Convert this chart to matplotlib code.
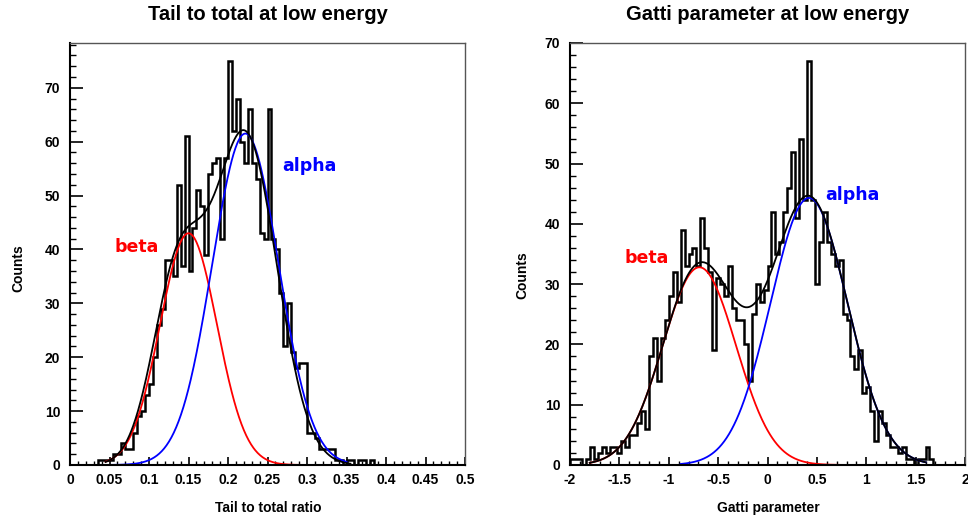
import numpy as np
import matplotlib
matplotlib.use('Agg')
import matplotlib.pyplot as plt
from matplotlib.ticker import MultipleLocator, FuncFormatter

plt.rcParams.update({'font.family': ['Liberation Sans', 'DejaVu Sans'], 'axes.unicode_minus': False})

W, H = 968, 521

# --- data: tail-to-total ratio, 100 bins on [0, 0.5]
tail_edges = np.linspace(0.0, 0.5, 101)
tail_counts = [0, 0, 0, 0, 0, 0, 0, 1, 1, 1,
               1, 2, 2, 4, 3, 3, 6, 9, 10, 13,
               15, 20, 26, 29, 38, 38, 35, 52, 37, 61,
               36, 44, 51, 48, 39, 54, 56, 57, 42, 57,
               75, 62, 68, 60, 56, 66, 56, 53, 43, 42,
               66, 42, 40, 32, 22, 30, 21, 18, 19, 19,
               6, 6, 5, 3, 3, 3, 3, 1, 1, 0,
               1, 1, 0, 1, 1, 0, 1, 0, 0, 0,
               0, 0, 0, 0, 0, 0, 0, 0, 0, 0,
               0, 0, 0, 0, 0, 0, 0, 0, 0, 0]
# gaussian fit parameters (amplitude, mean, sigma)
tail_beta = [43.0, 0.150, 0.036]
tail_alpha = [61.5, 0.222, 0.042]
tail_total = [[35.0, 0.137, 0.032], [61.0, 0.222, 0.040]]

# --- data: Gatti parameter, 100 bins on [-2, 2]
gatti_edges = np.linspace(-2.0, 2.0, 101)
gatti_counts = [1, 1, 1, 0, 1, 3, 1, 2, 3, 2,
                3, 3, 2, 4, 3, 5, 5, 7, 9, 6,
                18, 21, 14, 21, 24, 28, 32, 27, 39, 33,
                35, 36, 33, 41, 36, 32, 19, 31, 30, 28,
                33, 26, 24, 24, 20, 14, 25, 30, 27, 29,
                33, 42, 35, 37, 42, 46, 52, 41, 54, 44,
                67, 44, 30, 37, 42, 37, 35, 33, 34, 25,
                24, 18, 16, 19, 12, 13, 9, 4, 9, 7,
                5, 3, 3, 2, 3, 1, 1, 0, 1, 1,
                3, 1, 0, 0, 0, 0, 0, 0, 0, 0]
gatti_beta = [32.8, -0.69, 0.37]
gatti_alpha = [44.3, 0.42, 0.39]


def gauss(x, p):
    return p[0] * np.exp(-0.5 * ((x - p[1]) / p[2]) ** 2)


def px_axes(left, top, right, bottom):
    return [left / W, 1 - bottom / H, (right - left) / W, (bottom - top) / H]


def style_axes(ax, xmaj, xmin, ymaj=10, ymin=2):
    ax.xaxis.set_major_locator(MultipleLocator(xmaj))
    ax.xaxis.set_minor_locator(MultipleLocator(xmin))
    ax.yaxis.set_major_locator(MultipleLocator(ymaj))
    ax.yaxis.set_minor_locator(MultipleLocator(ymin))
    ax.xaxis.set_major_formatter(FuncFormatter(lambda v, _: '%g' % round(v, 3)))
    ax.yaxis.set_major_formatter(FuncFormatter(lambda v, _: '%g' % v))
    ax.tick_params(axis='x', which='major', direction='in', length=6, width=1.2, pad=6, labelsize=10)
    ax.tick_params(axis='x', which='minor', direction='in', length=3, width=1.0)
    ax.tick_params(axis='y', which='major', direction='in', length=9, width=1.2, pad=7, labelsize=10)
    ax.tick_params(axis='y', which='minor', direction='in', length=4.5, width=1.0)
    for lab in ax.get_xticklabels() + ax.get_yticklabels():
        lab.set_fontweight('bold')
    for s in ['left', 'bottom']:
        ax.spines[s].set_linewidth(1.5)
    for s in ['top', 'right']:
        ax.spines[s].set_color('#555555')
        ax.spines[s].set_linewidth(1.0)


fig = plt.figure(figsize=(W / 100, H / 100), dpi=100)
lbl = dict(fontsize=12.5, fontweight='bold', family='DejaVu Sans', ha='center', va='center')

# left panel
ax1 = fig.add_axes(px_axes(70, 43, 465, 465))
ax1.stairs(tail_counts, tail_edges, color='black', linewidth=1.8, baseline=0)
xr = np.linspace(0.045, 0.35, 400)
ax1.plot(xr, gauss(xr, tail_beta), color='#ff0000', linewidth=1.3)
ax1.plot(xr, gauss(xr, tail_alpha), color='#0000ff', linewidth=1.3)
xb = np.linspace(0.045, 0.355, 400)
ax1.plot(xb, gauss(xb, tail_total[0]) + gauss(xb, tail_total[1]), color='black', linewidth=1.3)
ax1.set_xlim(0, 0.5)
ax1.set_ylim(0, 78.3)
style_axes(ax1, 0.05, 0.01)
ax1.text(0.085, 40.4, 'beta', color='#ff0000', **lbl)
ax1.text(0.3025, 55.5, 'alpha', color='#0000ff', **lbl)

# right panel
ax2 = fig.add_axes(px_axes(570, 43, 965, 465))
ax2.stairs(gatti_counts, gatti_edges, color='black', linewidth=1.8, baseline=0)
xr = np.linspace(-1.8, 1.45, 400)
ax2.plot(xr, gauss(xr, gatti_beta), color='#ff0000', linewidth=1.3)
xa = np.linspace(-0.88, 1.6, 400)
ax2.plot(xa, gauss(xa, gatti_alpha), color='#0000ff', linewidth=1.3)
xb = np.linspace(-1.8, 1.6, 400)
ax2.plot(xb, gauss(xb, gatti_beta) + gauss(xb, gatti_alpha), color='black', linewidth=1.3)
ax2.set_xlim(-2, 2)
ax2.set_ylim(0, 70)
style_axes(ax2, 0.5, 0.1)
ax2.text(-1.22, 34.3, 'beta', color='#ff0000', **lbl)
ax2.text(0.856, 44.8, 'alpha', color='#0000ff', **lbl)

# titles and axis labels
fig.text(268 / W, 1 - 14 / H, 'Tail to total at low energy', fontsize=14.5, fontweight='bold', ha='center', va='center')
fig.text(768 / W, 1 - 14 / H, 'Gatti parameter at low energy', fontsize=14.5, fontweight='bold', ha='center', va='center')
fig.text(268 / W, 1 - 508 / H, 'Tail to total ratio', fontsize=10, fontweight='bold', ha='center', va='center')
fig.text(768 / W, 1 - 508 / H, 'Gatti parameter', fontsize=10, fontweight='bold', ha='center', va='center')
fig.text(18 / W, 1 - 268 / H, 'Counts', fontsize=10, fontweight='bold', ha='center', va='center', rotation=90)
fig.text(522 / W, 1 - 275 / H, 'Counts', fontsize=10, fontweight='bold', ha='center', va='center', rotation=90)

fig.savefig('out.png', dpi=100)
